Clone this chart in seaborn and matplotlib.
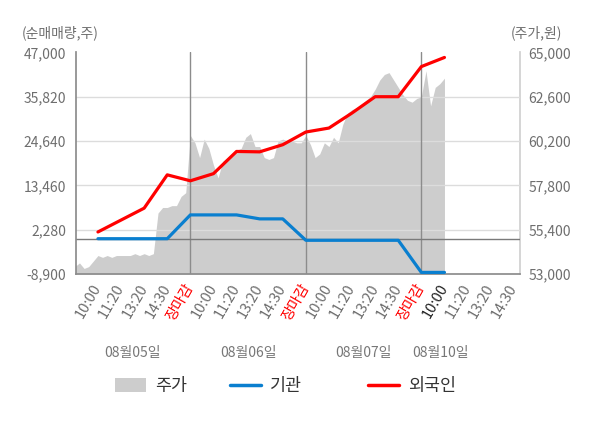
import matplotlib
matplotlib.use("Agg")
import matplotlib.pyplot as plt
import matplotlib.transforms as mtransforms
from matplotlib.lines import Line2D
from matplotlib.patches import Patch
import numpy as np
import pandas as pd
import seaborn as sns

# x axis: one slot per tick, five slots per trading day
tick_labels = ["10:00", "11:20", "13:20", "14:30", "장마감"] * 3 + ["10:00", "11:20", "13:20", "14:30"]
day_labels = ["08월05일", "08월06일", "08월07일", "08월10일"]
day_label_pos = [2.5, 7.5, 12.5, 15.85]
day_breaks = [5, 10, 15]

# net buying (shares), one value per slot
slots = list(range(1, 17))
foreign = [1700, 4700, 7700, 16100, 14600, 16400, 22000, 21900,
           23700, 26900, 27900, 31700, 35800, 35800, 43400, 45700]
institution = [0, 0, 0, 0, 6000, 6000, 6000, 5000,
               5000, -400, -400, -400, -400, -400, -8500, -8500]

# share price (won), sampled every 0.2 slot
price_step = 0.2
price = [53400, 53600, 53300, 53400, 53700, 54000, 53900, 54000, 53900, 54000,
         54000, 54000, 54000, 54100, 54000, 54100, 54000, 54100, 56300, 56600,
         56600, 56700, 56700, 57200, 57400, 60500, 60100, 59300, 60300, 59800,
         58900, 58200, 59100, 59300, 59400, 59700, 59800, 60400, 60600, 59900,
         59900, 59300, 59200, 59300, 60200, 60300, 60200, 60200, 60100, 60100,
         60500, 60000, 59300, 59500, 60100, 59900, 60400, 60100, 61100, 61700,
         61900, 62000, 62200, 62400, 62600, 63000, 63500, 63800, 63900, 63500,
         63100, 62700, 62400, 62300, 62500, 62600, 64000, 62100, 63100, 63300,
         63600]

left_ticks = [-8900, 2280, 13460, 24640, 35820, 47000]
right_ticks = [53000, 55400, 57800, 60200, 62600, 65000]

RED = "#ff0000"
BLUE = "#0a7fcf"
GRAY_AREA = "#cdcdcd"
TICK_GRAY = "#6e6e6e"

sns.set_theme(style="white")
plt.rcParams["font.family"] = ["Noto Sans CJK KR", "DejaVu Sans"]

fig = plt.figure(figsize=(6, 4.28), dpi=100)
ax = fig.add_axes([76 / 600, 1 - 274 / 428, 444 / 600, (274 - 52.3) / 428])
ax2 = ax.twinx()
ax.set_zorder(ax2.get_zorder() + 1)
ax.patch.set_visible(False)
ax2.patch.set_facecolor("#f5f5f5")

# price area on the right axis
price_x = np.arange(len(price)) * price_step
ax2.fill_between(price_x, price, 53000, color=GRAY_AREA, linewidth=0)
ax2.set_ylim(53000, 65000)
ax2.set_yticks(right_ticks)
ax2.set_yticklabels([f"{v:,}" for v in right_ticks])

# grid, day separators and zero line
for v in left_ticks[1:-1]:
    ax.axhline(v, color="#dcdcdc", lw=1, zorder=1)
for b in day_breaks:
    ax.axvline(b, color="#8c8c8c", lw=1, zorder=2)
ax.axhline(0, color="#7a7a7a", lw=1, zorder=2)

df = pd.DataFrame({
    "slot": slots + slots,
    "value": institution + foreign,
    "series": ["기관"] * len(slots) + ["외국인"] * len(slots),
})
sns.lineplot(data=df, x="slot", y="value", hue="series",
             palette={"기관": BLUE, "외국인": RED}, linewidth=2.3,
             legend=False, ax=ax, zorder=3)

ax.set_xlim(0.05, 19.27)
ax.set_ylim(-8900, 47000)
ax.set_yticks(left_ticks)
ax.set_yticklabels([f"{v:,}" for v in left_ticks])
ax.set_xticks(range(1, 20))
ax.set_xticklabels(tick_labels, rotation=60, ha="right", va="center",
                   rotation_mode="anchor", fontsize=10.5)
ax.set_xlabel("")
ax.set_ylabel("")
for i, lab in enumerate(ax.get_xticklabels()):
    if lab.get_text() == "장마감":
        lab.set_color(RED)
    elif i == 15:
        lab.set_color("#222222")
    else:
        lab.set_color(TICK_GRAY)

ax.tick_params(axis="y", length=0, labelsize=10, labelcolor=TICK_GRAY, pad=7)
ax.tick_params(axis="x", length=0, pad=8)
ax2.tick_params(axis="y", length=0, labelsize=10, labelcolor=TICK_GRAY, pad=6)

for a in (ax, ax2):
    for s in a.spines.values():
        s.set_visible(False)
ax.spines["left"].set_visible(True)
ax.spines["left"].set_color("#8c8c8c")
ax.spines["bottom"].set_visible(True)
ax.spines["bottom"].set_color("#8c8c8c")
ax2.spines["right"].set_visible(True)
ax2.spines["right"].set_color("#d0d0d0")

fig.text(22 / 600, 1 - 33 / 428, "(순매매량,주)", ha="left", va="center",
         fontsize=10, color=TICK_GRAY)
fig.text(562 / 600, 1 - 33 / 428, "(주가,원)", ha="right", va="center",
         fontsize=10, color=TICK_GRAY)

trans = mtransforms.blended_transform_factory(ax.transData, fig.transFigure)
for pos, lab in zip(day_label_pos, day_labels):
    ax.text(pos, 1 - 353 / 428, lab, transform=trans, ha="center", va="center",
            fontsize=10, color="#777777")

legend_items = [
    (Patch(facecolor=GRAY_AREA, edgecolor="none"), "주가", 115),
    (Line2D([0], [0], color=BLUE, lw=2.5), "기관", 230),
    (Line2D([0], [0], color=RED, lw=2.5), "외국인", 368),
]
for handle, text, xpx in legend_items:
    leg = fig.legend(handles=[handle], labels=[text], loc="center left",
                     bbox_to_anchor=(xpx / 600, 1 - 386 / 428), frameon=False,
                     borderpad=0, borderaxespad=0, handlelength=1.8,
                     handleheight=0.85, handletextpad=0.5, fontsize=12.5)
    for t in leg.get_texts():
        t.set_color("#333333")

fig.savefig("out.png", dpi=100)
